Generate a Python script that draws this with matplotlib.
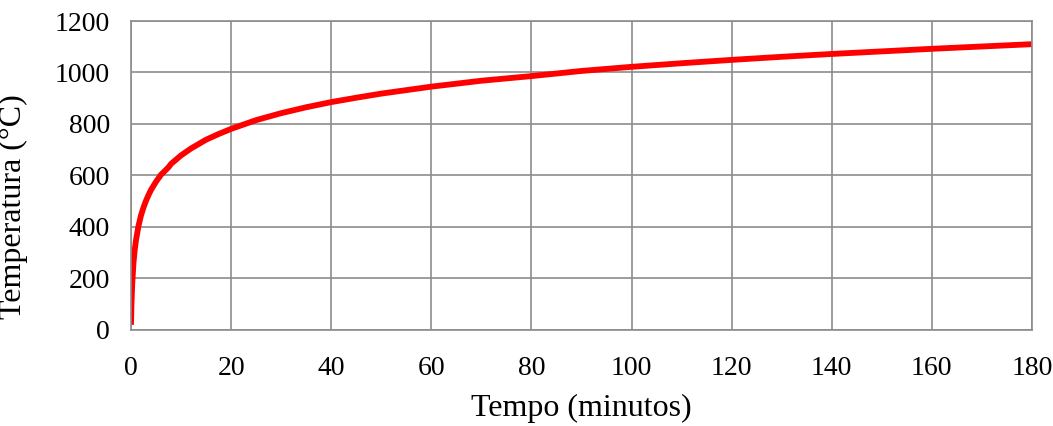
import matplotlib.pyplot as plt

plt.rcParams["font.family"] = ["Liberation Serif", "DejaVu Serif"]

# values
tempo = [0, 0.1, 0.25, 0.5, 0.75, 1, 1.5, 2, 2.5, 3, 3.5, 4, 5, 6, 7.5, 8, 10,
         12, 15, 17.5, 20, 25, 30, 35, 40, 45, 50, 60, 70, 80, 90, 100, 110,
         120, 130, 140, 150, 160, 170, 180]
temperatura = [20, 104, 181, 261, 312, 349, 404, 445, 476, 502, 524, 544, 576,
               603, 632, 645, 678, 705, 739, 761, 781, 815, 842, 865, 885, 902,
               918, 945, 968, 986, 1006, 1022, 1036, 1049, 1061, 1072, 1082,
               1092, 1101, 1110]
x_ticks = list(range(0, 181, 20))
y_ticks = list(range(0, 1201, 200))

fig = plt.figure(figsize=(10.53, 4.26), dpi=100)
ax = fig.add_axes([0.1244, 0.2254, 0.8556, 0.7253])
ax.plot(tempo, temperatura, color="#ff0000", lw=4.2, solid_capstyle="butt")

ax.set_xlim(0, 180)
ax.set_ylim(0, 1200)
ax.set_xticks(x_ticks)
ax.set_yticks(y_ticks)
ax.grid(True, color="#8c8c8c", lw=1.2)
ax.set_axisbelow(True)
for s in ax.spines.values():
    s.set_color("#8c8c8c")
    s.set_linewidth(1.2)
ax.tick_params(length=0, labelsize=20)
ax.tick_params(axis="x", pad=19)
ax.tick_params(axis="y", pad=15)
ax.set_xlabel("Tempo (minutos)", fontsize=23, labelpad=9)
ax.set_ylabel("Temperatura (°C)", fontsize=23)
ax.yaxis.set_label_coords(-0.114, 0.398)

fig.savefig("out.png", dpi=100)
